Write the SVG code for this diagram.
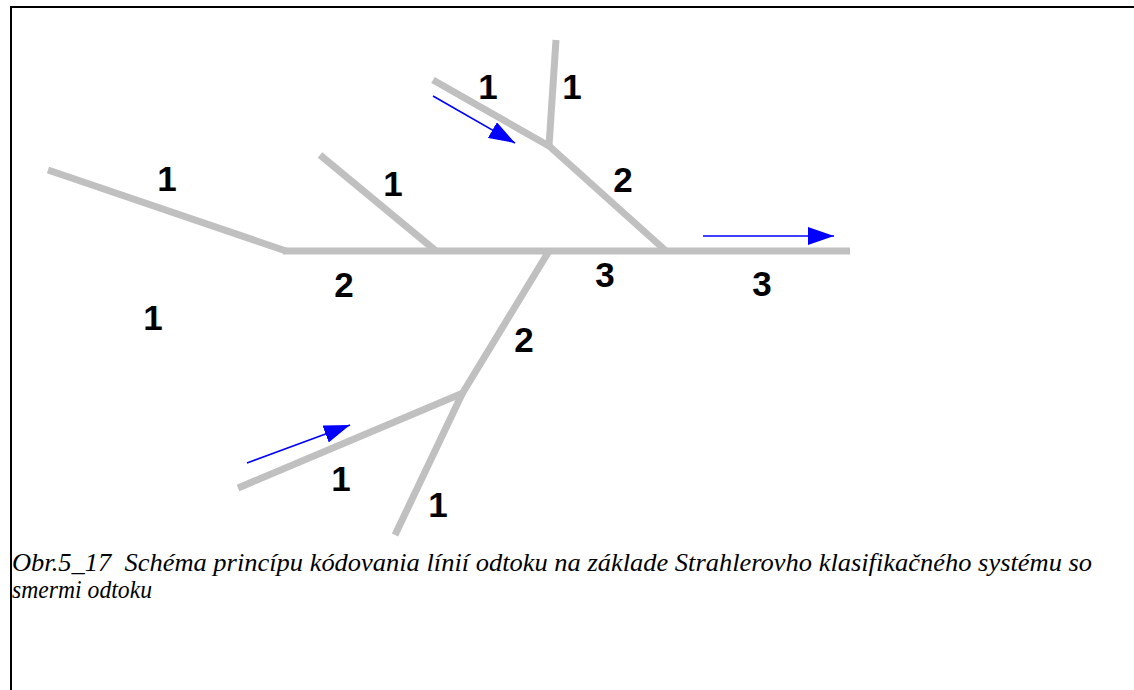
<svg xmlns="http://www.w3.org/2000/svg" width="1134" height="690" viewBox="0 0 1134 690">
<style>
.stream{stroke:#c0c0c0;stroke-width:7;fill:none;stroke-linecap:butt;stroke-linejoin:round}
.lbl{font-family:"Liberation Sans",Arial,sans-serif;font-weight:bold;font-size:35px;fill:#000;text-anchor:middle}
.flow{stroke:#0000ff;stroke-width:1.6;fill:none;marker-end:url(#ah)}
.cap{font-family:"Liberation Serif","Times New Roman",serif;font-style:italic;font-size:26px;fill:#000}
</style>
<defs>
<marker id="ah" viewBox="0 0 26 18" refX="26" refY="9" markerWidth="26" markerHeight="18" markerUnits="userSpaceOnUse" orient="auto">
<path d="M0,0 L26,9 L0,18 z" fill="#0000ff"/>
</marker>
</defs>
<rect x="0" y="0" width="1134" height="690" fill="#fff"/>
<g id="frame">
<rect x="10" y="6" width="1124" height="2" fill="#000"/>
<rect x="10" y="6" width="2" height="684" fill="#000"/>
</g>
<g id="streams">
<line id="s-left" class="stream" x1="48" y1="170" x2="286" y2="251"/>
<line id="s-main" class="stream" x1="283" y1="251" x2="850" y2="251"/>
<line id="s-mid" class="stream" x1="320" y1="155" x2="436" y2="251"/>
<line id="s-up1" class="stream" x1="433" y1="80" x2="549" y2="146"/>
<line id="s-up2" class="stream" x1="556" y1="40" x2="549" y2="146"/>
<line id="s-up3" class="stream" x1="548" y1="145" x2="666" y2="251"/>
<line id="s-low1" class="stream" x1="549" y1="251" x2="462" y2="394"/>
<line id="s-low2" class="stream" x1="463" y1="392" x2="395" y2="535"/>
<line id="s-low3" class="stream" x1="463" y1="393" x2="238" y2="488"/>
</g>
<g id="flows">
<line id="f-up" class="flow" x1="433" y1="96" x2="515" y2="143"/>
<line id="f-low" class="flow" x1="247" y1="463" x2="350" y2="425"/>
<line id="f-right" class="flow" x1="703" y1="236" x2="834" y2="236"/>
</g>
<g id="labels">
<text class="lbl" x="167" y="191">1</text>
<text class="lbl" x="393" y="196">1</text>
<text class="lbl" x="344" y="297">2</text>
<text class="lbl" x="153" y="330">1</text>
<text class="lbl" x="488" y="99">1</text>
<text class="lbl" x="572" y="99">1</text>
<text class="lbl" x="623" y="192">2</text>
<text class="lbl" x="605" y="287">3</text>
<text class="lbl" x="762" y="296">3</text>
<text class="lbl" x="524" y="352">2</text>
<text class="lbl" x="341" y="491">1</text>
<text class="lbl" x="438" y="517">1</text>
</g>
<g id="caption">
<text class="cap" x="12" y="571" textLength="1080" lengthAdjust="spacingAndGlyphs" xml:space="preserve">Obr.5_17  Schéma princípu kódovania línií odtoku na základe Strahlerovho klasifikačného systému so</text>
<text class="cap" x="12" y="598" textLength="140" lengthAdjust="spacingAndGlyphs">smermi odtoku</text>
</g>
</svg>
